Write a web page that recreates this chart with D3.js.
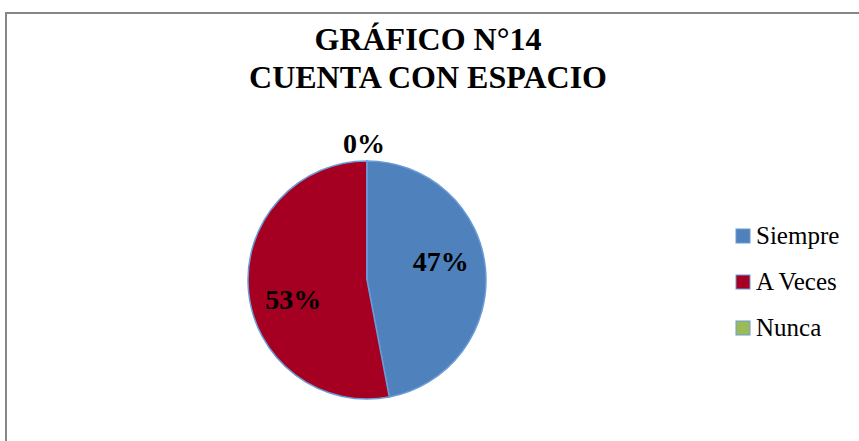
<!DOCTYPE html>
<html>
<head>
<meta charset="utf-8">
<script src="https://cdn.jsdelivr.net/npm/d3@7"></script>
<style>
  body { margin: 0; background: #fff; }
</style>
</head>
<body>
<svg width="859" height="441"></svg>
<script>
const width = 859;
const height = 441;
const serif = "'Liberation Serif', 'Times New Roman', Times, 'DejaVu Serif', serif";

// data
const categories = ["Siempre", "A Veces", "Nunca"];
const values = [47, 53, 0];
const colors = ["#4F81BD", "#A50021", "#9BBB59"];
const titleLines = ["GRÁFICO N°14", "CUENTA CON ESPACIO"];

const cx = 367;
const cy = 280;
const radius = 119;

const svg = d3.select('svg');

// chart border
svg.append('rect')
    .attr('x', 6)
    .attr('y', 13)
    .attr('width', width + 10)
    .attr('height', height + 10)
    .attr('fill', '#fff')
    .attr('stroke', '#868686')
    .attr('stroke-width', 2);

svg.selectAll('.title')
    .data(titleLines)
    .enter()
    .append('text')
        .classed('title', true)
        .text(d => d)
        .attr('x', 428)
        .attr('y', (d, i) => 50 + i * 38)
        .attr('text-anchor', 'middle')
        .attr('font-family', serif)
        .attr('font-size', '32px')
        .attr('font-weight', 'bold');

const pie = d3.pie().sort(null).value(d => d);
const arcs = pie(values);
const arc = d3.arc().innerRadius(0).outerRadius(radius);

const g = svg.append('g')
    .attr('transform', 'translate(' + cx + ',' + cy + ')');

g.selectAll('.slice')
    .data(arcs)
    .enter()
    .append('path')
        .classed('slice', true)
        .attr('d', arc)
        .attr('fill', (d, i) => colors[i])
        .attr('stroke', '#6A9BD8')
        .attr('stroke-width', 1.5);

// labels: inside for real slices (shifted a little like excel does), outside for the empty one
const labelArc = d3.arc().innerRadius(radius * 0.64).outerRadius(radius * 0.64);
const shift = -9 * Math.PI / 180;
g.selectAll('.lbl')
    .data(arcs)
    .enter()
    .append('text')
        .classed('lbl', true)
        .text(d => d.data + '%')
        .attr('transform', d => {
            if (d.data === 0) {
                return 'translate(-3,' + (-radius - 8) + ')';
            }
            const c = labelArc.centroid({startAngle: d.startAngle + shift, endAngle: d.endAngle + shift});
            return 'translate(' + c[0] + ',' + (c[1] + 10) + ')';
        })
        .attr('text-anchor', 'middle')
        .attr('font-family', serif)
        .attr('font-size', '28px')
        .attr('font-weight', 'bold');

// legend
const legend = svg.selectAll('.legend')
    .data(categories)
    .enter()
    .append('g')
        .classed('legend', true)
        .attr('transform', (d, i) => 'translate(736,' + (229 + i * 46) + ')');

legend.append('rect')
    .attr('width', 14)
    .attr('height', 14)
    .attr('fill', (d, i) => colors[i])
    .attr('stroke', '#6A9BD8')
    .attr('stroke-width', 1);

legend.append('text')
    .text(d => d)
    .attr('x', 20)
    .attr('y', 15)
    .attr('font-family', serif)
    .attr('font-size', '25px');
</script>
</body>
</html>
